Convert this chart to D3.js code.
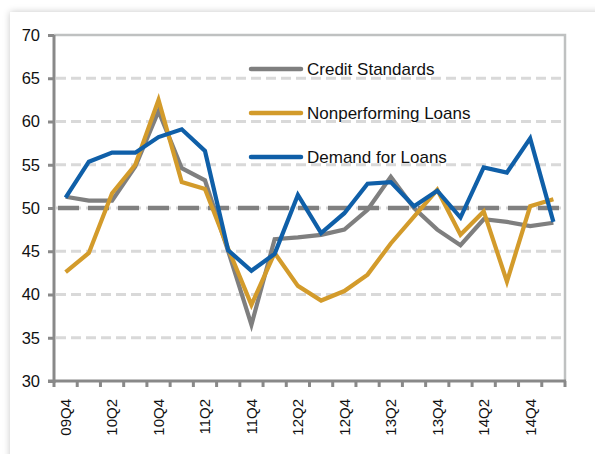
<!DOCTYPE html>
<html>
<head>
<meta charset="utf-8">
<script src="https://cdn.jsdelivr.net/npm/d3@7"></script>
<style>
    body { margin: 0; background: #fff; }
    #card {
        position: absolute; left: 10px; top: 12px; width: 600px; height: 460px;
        background: #fff; box-shadow: 0 0 7px rgba(0, 0, 0, 0.22);
    }
    #chart { position: absolute; left: 0; top: 0; }
    text { font-family: "Liberation Sans", Arial, sans-serif; fill: #111; }
</style>
</head>
<body>
<div id="card"></div>
<div id="chart"></div>
<script>
// Quarters on the x axis (every other one is labelled)
const quarters = ['09Q4', '10Q1', '10Q2', '10Q3', '10Q4', '11Q1', '11Q2', '11Q3', '11Q4', '12Q1', '12Q2',
    '12Q3', '12Q4', '13Q1', '13Q2', '13Q3', '13Q4', '14Q1', '14Q2', '14Q3', '14Q4', '15Q1']

const creditStandards = [51.3, 50.85, 50.85, 54.8, 61.2, 54.6, 53.2, 45.0, 36.5, 46.4, 46.6,
    46.9, 47.5, 49.8, 53.6, 50.0, 47.5, 45.7, 48.7, 48.4, 47.9, 48.3]
const nonperformingLoans = [42.6, 44.8, 51.7, 55.0, 62.5, 53.0, 52.2, 45.3, 38.8, 44.8, 41.0,
    39.3, 40.4, 42.3, 45.9, 49.0, 52.1, 46.9, 49.6, 41.5, 50.2, 51.0]
const demandForLoans = [51.2, 55.35, 56.4, 56.4, 58.2, 59.1, 56.6, 45.1, 42.75, 44.7, 51.5,
    47.1, 49.4, 52.8, 53.0, 50.2, 52.0, 48.9, 54.7, 54.1, 58.05, 48.4]

const seriesNames = ['Credit Standards', 'Nonperforming Loans', 'Demand for Loans']
const seriesColors = ['#7f7f7f', '#d39b2b', '#0f5fa8']
const yTicks = [30, 35, 40, 45, 50, 55, 60, 65, 70]
const referenceLevel = 50

const width = 595, height = 454
const margin = {top: 35, right: 30, bottom: 73, left: 54}

const svg = d3.select('#chart').append('svg')
    .attr('width', width)
    .attr('height', height)

const x = d3.scaleBand()
    .domain(quarters)
    .range([margin.left, width - margin.right])

const y = d3.scaleLinear()
    .domain([30, 70])
    .range([height - margin.bottom, margin.top])

const plotLeft = margin.left, plotRight = width - margin.right
const plotTop = margin.top, plotBottom = height - margin.bottom

// Gridlines
svg.append('g')
    .selectAll('line')
    .data(yTicks.filter(d => d > 30 && d < 70))
    .join('line')
    .attr('x1', plotLeft + 2)
    .attr('x2', plotRight)
    .attr('y1', d => y(d))
    .attr('y2', d => y(d))
    .attr('stroke', '#d9d9d9')
    .attr('stroke-width', 3)
    .attr('stroke-dasharray', '10,5')

// Plot frame (top and right)
svg.append('path')
    .attr('d', `M${plotLeft},${plotTop}H${plotRight}V${plotBottom}`)
    .attr('fill', 'none')
    .attr('stroke', '#bfc1c1')
    .attr('stroke-width', 2.5)

// 50 reference line
svg.append('line')
    .attr('x1', plotLeft + 4)
    .attr('x2', plotRight - 4)
    .attr('y1', y(referenceLevel))
    .attr('y2', y(referenceLevel))
    .attr('stroke', '#808080')
    .attr('stroke-width', 4.5)
    .attr('stroke-dasharray', '21,9')

// Y axis
const yAxis = svg.append('g')
    .attr('transform', `translate(${plotLeft},0)`)
    .call(d3.axisLeft(y).tickValues(yTicks).tickSize(6).tickPadding(8).tickFormat(d3.format('d')))
yAxis.select('.domain').attr('stroke', '#898989').attr('stroke-width', 3)
    .attr('d', `M0,${plotTop}V${plotBottom + 2}`)
yAxis.selectAll('.tick line').attr('stroke', '#898989').attr('stroke-width', 3)
yAxis.selectAll('.tick text').style('font-size', '16.5px').attr('fill', '#111')

// X axis
const xAxis = svg.append('g')
    .attr('transform', `translate(0,${plotBottom})`)
xAxis.append('line')
    .attr('x1', plotLeft - 6).attr('x2', plotRight + 1)
    .attr('stroke', '#898989').attr('stroke-width', 3)
xAxis.selectAll('.xtick')
    .data(d3.range(quarters.length + 1))
    .join('line')
    .attr('class', 'xtick')
    .attr('x1', i => plotLeft + i * x.step())
    .attr('x2', i => plotLeft + i * x.step())
    .attr('y1', 0).attr('y2', 6)
    .attr('stroke', '#898989').attr('stroke-width', 3)
xAxis.selectAll('.xlabel')
    .data(quarters.filter((d, i) => i % 2 === 0))
    .join('text')
    .attr('class', 'xlabel')
    .attr('transform', d => `translate(${x(d) + x.bandwidth() / 2},${18}) rotate(-90)`)
    .attr('text-anchor', 'end')
    .attr('dy', '0.36em')
    .style('font-size', '15px')
    .text(d => d)

// Lines
const seriesData = [creditStandards, nonperformingLoans, demandForLoans]
const line = d3.line()
    .x((d, i) => x(quarters[i]) + x.bandwidth() / 2)
    .y(d => y(d))

svg.append('g')
    .selectAll('path')
    .data(seriesData)
    .join('path')
    .attr('d', line)
    .attr('fill', 'none')
    .attr('stroke', (d, i) => seriesColors[i])
    .attr('stroke-width', 4.2)
    .attr('stroke-linejoin', 'miter')

// Legend
const legend = svg.append('g')
    .attr('transform', 'translate(251,69)')
const legendItem = legend.selectAll('g')
    .data(seriesNames)
    .join('g')
    .attr('transform', (d, i) => `translate(0,${i * 44})`)
legendItem.append('line')
    .attr('x1', 0).attr('x2', 50)
    .attr('stroke', (d, i) => seriesColors[i])
    .attr('stroke-width', 4.5)
    .attr('stroke-linecap', 'round')
legendItem.append('text')
    .attr('x', 56)
    .attr('dy', '0.36em')
    .style('font-size', '17px')
    .text(d => d)
</script>
</body>
</html>
